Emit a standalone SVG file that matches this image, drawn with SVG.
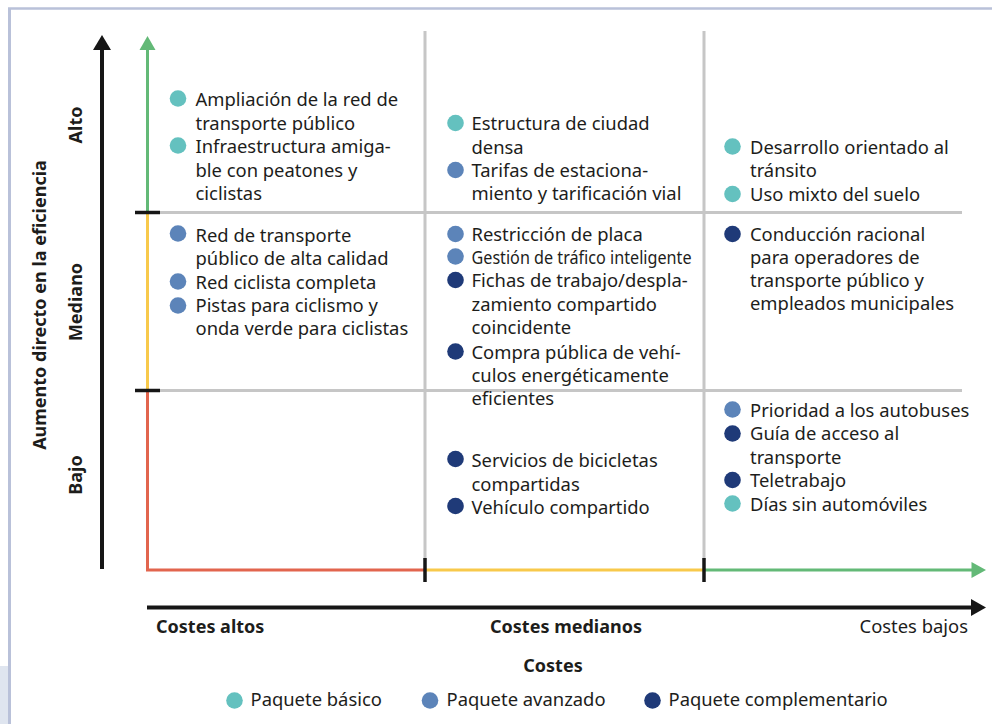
<svg xmlns="http://www.w3.org/2000/svg" width="992" height="724" viewBox="0 0 992 724">
<style>
text{font-family:"Noto Sans","Open Sans","DejaVu Sans",sans-serif;fill:#1d1d1b;}
.t{font-size:18.4px;}
.b{font-size:18px;font-weight:bold;}
.grid{stroke:#c6c6c6;stroke-width:3;fill:none;}
.tick{stroke:#161616;stroke-width:3.5;}
.d1{fill:#64c1bf;}
.d2{fill:#5c84b9;}
.d3{fill:#1f3a78;}
</style>
<rect x="0" y="666" width="8" height="58" fill="#dfe5ef"/>
<line x1="9.5" y1="8" x2="9.5" y2="724" stroke="#b9c1d9" stroke-width="3"/>
<line x1="8" y1="8.5" x2="992" y2="8.5" stroke="#b9c1d9" stroke-width="2.5"/>

<g id="connectors">
  <line class="grid" x1="425" y1="31" x2="425" y2="560"/>
  <line class="grid" x1="704" y1="31" x2="704" y2="560"/>
  <line class="grid" x1="160" y1="212.5" x2="962" y2="212.5"/>
  <line class="grid" x1="160" y1="390.5" x2="962" y2="390.5"/>
  <line x1="102" y1="48" x2="102" y2="569" stroke="#161616" stroke-width="4"/>
  <polygon points="102,35 93,50 111,50" fill="#161616"/>
  <line x1="147.5" y1="48" x2="147.5" y2="212.5" stroke="#63b977" stroke-width="3"/>
  <polygon points="147.5,36 139.5,50 155.5,50" fill="#63b977"/>
  <line x1="147.5" y1="212.5" x2="147.5" y2="390.5" stroke="#f8c94b" stroke-width="3"/>
  <polyline points="147.5,390.5 147.5,570 425,570" stroke="#e2654e" stroke-width="3" fill="none"/>
  <line x1="425" y1="570" x2="704" y2="570" stroke="#f8c94b" stroke-width="3"/>
  <line x1="704" y1="570" x2="973" y2="570" stroke="#63b977" stroke-width="3"/>
  <polygon points="986,570 971.5,562 971.5,578" fill="#63b977"/>
  <line x1="147" y1="607.5" x2="973" y2="607.5" stroke="#161616" stroke-width="4"/>
  <polygon points="986,607.5 971,599 971,616" fill="#161616"/>
  <line class="tick" x1="135" y1="212.5" x2="160" y2="212.5"/>
  <line class="tick" x1="135" y1="390.5" x2="160" y2="390.5"/>
  <line class="tick" x1="425" y1="558" x2="425" y2="582"/>
  <line class="tick" x1="704" y1="558" x2="704" y2="582"/>
</g>

<g id="axis-labels">
  <text class="b" transform="translate(46,305) rotate(-90)" text-anchor="middle">Aumento directo en la eficiencia</text>
  <text class="b" transform="translate(82,125) rotate(-90)" text-anchor="middle">Alto</text>
  <text class="b" transform="translate(82,302) rotate(-90)" text-anchor="middle">Mediano</text>
  <text class="b" transform="translate(82,475) rotate(-90)" text-anchor="middle">Bajo</text>
  <text class="b" x="156" y="633">Costes altos</text>
  <text class="b" x="566" y="633" text-anchor="middle">Costes medianos</text>
  <text class="t" x="968" y="633" text-anchor="end">Costes bajos</text>
  <text class="b" x="553" y="671.5" text-anchor="middle">Costes</text>
</g>

<g id="cell-high-highcost">
  <circle class="d1" cx="178" cy="98.5" r="8.3"/>
  <text class="t" x="195.5" y="106">Ampliación de la red de</text>
  <text class="t" x="195.5" y="129.5">transporte público</text>
  <circle class="d1" cx="178" cy="145.5" r="8.3"/>
  <text class="t" x="195.5" y="153">Infraestructura amiga-</text>
  <text class="t" x="195.5" y="176.5">ble con peatones y</text>
  <text class="t" x="195.5" y="200">ciclistas</text>
</g>

<g id="cell-mid-highcost">
  <circle class="d2" cx="178" cy="233.5" r="8.3"/>
  <text class="t" x="195.5" y="241.5">Red de transporte</text>
  <text class="t" x="195.5" y="265">público de alta calidad</text>
  <circle class="d2" cx="178" cy="281.5" r="8.3"/>
  <text class="t" x="195.5" y="288.5">Red ciclista completa</text>
  <circle class="d2" cx="178" cy="305.5" r="8.3"/>
  <text class="t" x="195.5" y="312">Pistas para ciclismo y</text>
  <text class="t" x="195.5" y="335">onda verde para ciclistas</text>
</g>

<g id="cell-high-midcost">
  <circle class="d1" cx="455.5" cy="123" r="8.3"/>
  <text class="t" x="471.5" y="130">Estructura de ciudad</text>
  <text class="t" x="471.5" y="153.5">densa</text>
  <circle class="d2" cx="455.5" cy="170" r="8.3"/>
  <text class="t" x="471.5" y="177">Tarifas de estaciona-</text>
  <text class="t" x="471.5" y="200">miento y tarificación vial</text>
</g>

<g id="cell-mid-midcost">
  <circle class="d2" cx="455.5" cy="234" r="8.3"/>
  <text class="t" x="471.5" y="241">Restricción de placa</text>
  <circle class="d2" cx="455.5" cy="256.5" r="8.3"/>
  <text class="t" x="471.5" y="263.5" textLength="220" lengthAdjust="spacingAndGlyphs">Gestión de tráfico inteligente</text>
  <circle class="d3" cx="455.5" cy="280" r="8.3"/>
  <text class="t" x="471.5" y="287">Fichas de trabajo/despla-</text>
  <text class="t" x="471.5" y="310.5">zamiento compartido</text>
  <text class="t" x="471.5" y="333.5">coincidente</text>
  <circle class="d3" cx="455.5" cy="351.5" r="8.3"/>
  <text class="t" x="471.5" y="358.5">Compra pública de vehí-</text>
  <text class="t" x="471.5" y="381.5">culos energéticamente</text>
  <text class="t" x="471.5" y="405">eficientes</text>
</g>

<g id="cell-low-midcost">
  <circle class="d3" cx="455.5" cy="459" r="8.3"/>
  <text class="t" x="471.5" y="467">Servicios de bicicletas</text>
  <text class="t" x="471.5" y="490.5">compartidas</text>
  <circle class="d3" cx="455.5" cy="506" r="8.3"/>
  <text class="t" x="471.5" y="513.5">Vehículo compartido</text>
</g>

<g id="cell-high-lowcost">
  <circle class="d1" cx="732.5" cy="146.5" r="8.3"/>
  <text class="t" x="750" y="153.5">Desarrollo orientado al</text>
  <text class="t" x="750" y="176.5">tránsito</text>
  <circle class="d1" cx="732.5" cy="194" r="8.3"/>
  <text class="t" x="750" y="200.5">Uso mixto del suelo</text>
</g>

<g id="cell-mid-lowcost">
  <circle class="d3" cx="732.5" cy="234" r="8.3"/>
  <text class="t" x="750" y="241">Conducción racional</text>
  <text class="t" x="750" y="263.5">para operadores de</text>
  <text class="t" x="750" y="287">transporte público y</text>
  <text class="t" x="750" y="310">empleados municipales</text>
</g>

<g id="cell-low-lowcost">
  <circle class="d2" cx="732.5" cy="409.5" r="8.3"/>
  <text class="t" x="750" y="417">Prioridad a los autobuses</text>
  <circle class="d3" cx="732.5" cy="433.5" r="8.3"/>
  <text class="t" x="750" y="440">Guía de acceso al</text>
  <text class="t" x="750" y="464">transporte</text>
  <circle class="d3" cx="732.5" cy="480" r="8.3"/>
  <text class="t" x="750" y="487">Teletrabajo</text>
  <circle class="d1" cx="732.5" cy="503.5" r="8.3"/>
  <text class="t" x="750" y="511">Días sin automóviles</text>
</g>

<g id="legend">
  <circle class="d1" cx="234.5" cy="700.5" r="8.3"/>
  <text class="t" x="250.5" y="706">Paquete básico</text>
  <circle class="d2" cx="430" cy="700.5" r="8.3"/>
  <text class="t" x="446.5" y="706">Paquete avanzado</text>
  <circle class="d3" cx="652.5" cy="700.5" r="8.3"/>
  <text class="t" x="668.5" y="706">Paquete complementario</text>
</g>
</svg>
